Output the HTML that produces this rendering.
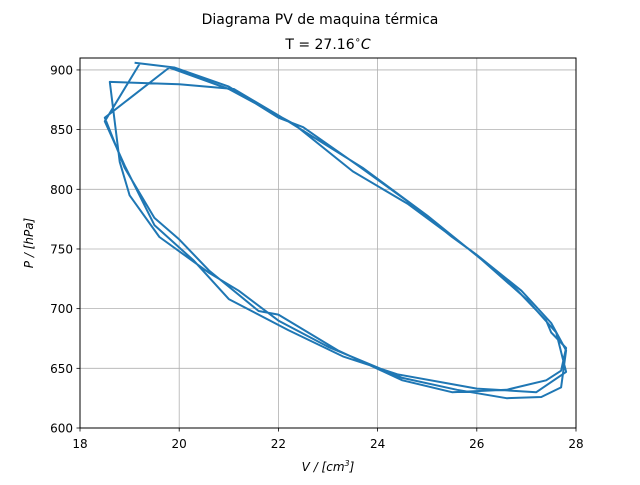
<!DOCTYPE html>
<html><head><meta charset="utf-8"><style>
body{margin:0;background:#fff;}
svg{font-family:"DejaVu Sans","Liberation Sans",sans-serif;}
</style></head><body>
<svg id="chart" width="640" height="480" xmlns="http://www.w3.org/2000/svg">
<rect width="640" height="480" fill="#fff"/>
<text x="320" y="24" text-anchor="middle" font-size="14">Diagrama PV de maquina térmica</text>
<text x="328" y="49" text-anchor="middle" font-size="14">T = 27.16<tspan font-size="10" dy="-6">∘</tspan><tspan dy="6" font-style="italic">C</tspan></text>
<g id="grid"></g>
<g id="ticks"></g>
<path id="series" fill="none" stroke="#1f77b4" stroke-width="2" stroke-linejoin="round"/>
<rect x="80" y="58" width="496" height="370" fill="none" stroke="#000" stroke-width="1"/>
<text x="328" y="471" text-anchor="middle" font-size="12" font-style="italic">V / [cm<tspan font-size="8" dy="-5">3</tspan><tspan dy="5">]</tspan></text>
<text transform="translate(33,243) rotate(-90)" text-anchor="middle" font-size="12" font-style="italic">P / [hPa]</text>
</svg>
<script>
const xTicks=[18,20,22,24,26,28];
const yTicks=[600,650,700,750,800,850,900];
const volumes=[19.1,19.9,21.0,22.0,22.5,23.6,24.6,25.5,26.0,26.8,27.4,27.5,27.8,27.7,27.4,26.6,25.5,24.5,23.2,22.0,21.6,20.6,20.0,19.5,18.9,18.5,19.8,21.0,22.3,23.5,24.6,26.0,26.9,27.5,27.8,27.7,27.3,26.6,25.6,24.5,23.0,22.0,21.2,20.6,19.6,19.0,18.8,18.6,20.0,21.1,22.0,23.7,25.0,26.1,27.0,27.6,27.8,27.2,26.0,24.4,23.3,22.2,21.0,20.3,19.5,18.9,18.5,19.2];
const pressures=[906,902,886,860,852,820,790,760,745,716,690,680,667,648,640,632,630,640,665,695,698,732,758,776,818,860,902,884,855,815,788,745,715,688,665,634,626,625,632,642,668,690,715,730,760,795,823,890,888,884,862,818,778,741,708,680,647,630,633,645,660,682,708,740,770,820,857,905];
const svgns="http://www.w3.org/2000/svg";
const X0=80,X1=576,Y0=428,Y1=58,xmin=18,xmax=28,ymin=600,ymax=910;
function sx(v){return X0+(v-xmin)/(xmax-xmin)*(X1-X0);}
function sy(p){return Y0-(p-ymin)/(ymax-ymin)*(Y0-Y1);}
const grid=document.getElementById('grid'),ticks=document.getElementById('ticks');
function mk(tag,attrs,parent){const e=document.createElementNS(svgns,tag);for(const k in attrs)e.setAttribute(k,attrs[k]);parent.appendChild(e);return e;}
xTicks.forEach(t=>{
  const x=sx(t);
  const g=mk('line',{x1:x,x2:x,y1:Y1,y2:Y0,stroke:'#b0b0b0','stroke-width':0.8},grid);
  
  
  mk('line',{x1:x,x2:x,y1:Y0,y2:Y0+3.5,stroke:'#000','stroke-width':0.8},ticks);
  const l=mk('text',{x:x,y:Y0+20,'text-anchor':'middle','font-size':12},ticks);
  l.textContent=t;
  
  
});
yTicks.forEach(t=>{
  const y=sy(t);
  const g=mk('line',{x1:X0,x2:X1,y1:y,y2:y,stroke:'#b0b0b0','stroke-width':0.8},grid);
  
  
  mk('line',{x1:X0-3.5,x2:X0,y1:y,y2:y,stroke:'#000','stroke-width':0.8},ticks);
  const l=mk('text',{x:X0-7,y:y+4.5,'text-anchor':'end','font-size':12},ticks);
  l.textContent=t;
  
  
});
let d='';
volumes.forEach((v,i)=>{d+=(i?'L':'M')+sx(v).toFixed(1)+','+sy(pressures[i]).toFixed(1);});
document.getElementById('series').setAttribute('d',d);
</script>
</body></html>
